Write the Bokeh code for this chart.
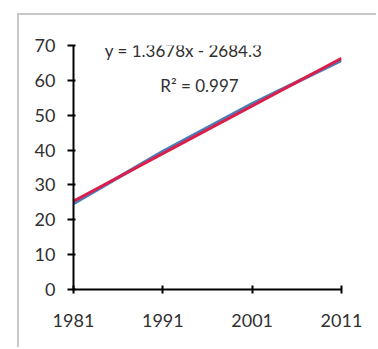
from bokeh.plotting import figure
from bokeh.models import Label, FixedTicker, Range1d, Spacer
from bokeh.layouts import column, row
from bokeh.embed import file_html
from bokeh.resources import INLINE

years = [1981, 1991, 2001, 2011]
values = [24.7, 39.6, 53.3, 65.75]
trend_slope = 1.3678
trend_intercept = -2684.3
trend_years = [1981, 2011]
x_ticks = [1981, 1991, 2001, 2011]
y_ticks = [0, 10, 20, 30, 40, 50, 60, 70]
eq_text = "y = 1.3678x - 2684.3"
r2_text = "R² = 0.997"

trend_values = [trend_slope * y + trend_intercept for y in trend_years]

p = figure(width=359, height=334, output_backend="svg", toolbar_location=None,
           x_range=Range1d(1981, 2011), y_range=Range1d(0, 70),
           min_border_left=54, min_border_right=37, min_border_top=30, min_border_bottom=60,
           styles={"border-left": "2px solid #c8c8c8", "border-top": "2px solid #c8c8c8"})
p.outline_line_color = None
p.grid.visible = False
p.background_fill_color = "white"

p.line(years, values, line_color="#4a7ebb", line_width=3.5)
p.line(trend_years, trend_values, line_color="#dc1f4a", line_width=3)

for ax in (p.xaxis[0], p.yaxis[0]):
    ax.axis_line_color = "black"
    ax.axis_line_width = 2
    ax.major_tick_line_color = "black"
    ax.major_tick_line_width = 2
    ax.minor_tick_line_color = None
    ax.major_label_text_font = "Lato"
    ax.major_label_text_font_size = "18px"
    ax.major_label_text_color = "#303030"

p.xaxis.major_tick_out = 4
p.xaxis.major_tick_in = 4
p.yaxis.major_tick_out = 6
p.yaxis.major_tick_in = 2

p.xaxis.ticker = FixedTicker(ticks=x_ticks)
p.yaxis.ticker = FixedTicker(ticks=y_ticks)
p.xaxis.major_label_standoff = 20
p.yaxis.major_label_standoff = 12

p.add_layout(Label(x=110, y=239, x_units="screen", y_units="screen", text=eq_text,
                   text_font="Lato", text_font_size="17px", text_color="#303030",
                   text_align="center", text_baseline="middle"))
p.add_layout(Label(x=126, y=204, x_units="screen", y_units="screen", text=r2_text,
                   text_font="Lato", text_font_size="17px", text_color="#303030",
                   text_align="center", text_baseline="middle"))

layout = column(Spacer(height=13), row(Spacer(width=17), p))
open("out.html", "w").write(file_html(layout, INLINE))
